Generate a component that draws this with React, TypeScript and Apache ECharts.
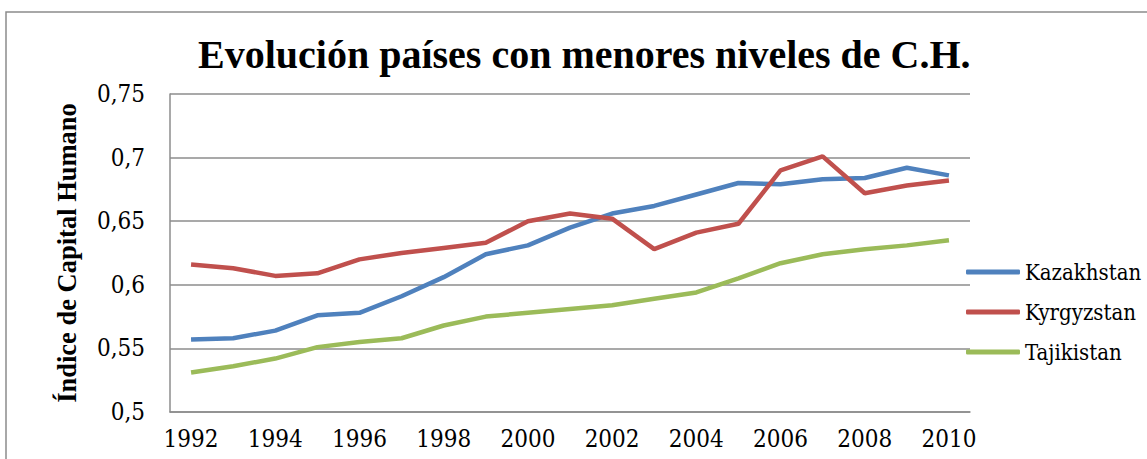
import React, { useEffect, useRef } from "react";
import * as echarts from "echarts";

const years = ["1992","1993","1994","1995","1996","1997","1998","1999","2000","2001","2002","2003","2004","2005","2006","2007","2008","2009","2010"];
const kazakhstan = [0.557, 0.558, 0.564, 0.576, 0.578, 0.591, 0.606, 0.624, 0.631, 0.645, 0.656, 0.662, 0.671, 0.680, 0.679, 0.683, 0.684, 0.692, 0.686];
const kyrgyzstan = [0.616, 0.613, 0.607, 0.609, 0.620, 0.625, 0.629, 0.633, 0.650, 0.656, 0.652, 0.628, 0.641, 0.648, 0.690, 0.701, 0.672, 0.678, 0.682];
const tajikistan = [0.531, 0.536, 0.542, 0.551, 0.555, 0.558, 0.568, 0.575, 0.578, 0.581, 0.584, 0.589, 0.594, 0.605, 0.617, 0.624, 0.628, 0.631, 0.635];
const seriesNames = ["Kazakhstan", "Kyrgyzstan", "Tajikistan"];
const colors = ["#4F81BD", "#C0504D", "#9BBB59"];
const titleText = "Evolución países con menores niveles de C.H.";
const yAxisName = "Índice de Capital Humano";

const FONT = "Liberation Serif";
const FONT_REG = "'DejaVu Serif Condensed', 'DejaVu Serif', serif";

export default function App() {
  const ref = useRef<HTMLDivElement>(null);
  useEffect(() => {
    if (!ref.current) return;
    const chart = echarts.init(ref.current, undefined, { renderer: "svg" });
    const data = [kazakhstan, kyrgyzstan, tajikistan];
    chart.setOption({
      animation: false,
      backgroundColor: "#ffffff",
      title: {
        text: titleText,
        left: 198,
        top: 34,
        padding: 0,
        textStyle: { fontFamily: FONT, fontSize: 40, fontWeight: "bold", color: "#000" },
      },
      graphic: [
        {
          type: "rect",
          shape: { x: 6, y: 12, width: 1200, height: 500 },
          style: { fill: "none", stroke: "#8c8c8c", lineWidth: 1.5 },
          silent: true,
        },
      ],
      legend: {
        orient: "vertical",
        left: 966,
        top: 261,
        itemWidth: 54,
        itemHeight: 5,
        itemGap: 18,
        padding: 0,
        icon: "roundRect",
        data: seriesNames,
        textStyle: { fontFamily: FONT_REG, fontSize: 22, color: "#000" },
      },
      grid: { left: 170, right: 177, top: 94, bottom: 47, containLabel: false },
      xAxis: {
        type: "category",
        data: years,
        boundaryGap: true,
        axisLine: { show: true, lineStyle: { color: "#8c8c8c", width: 1.5 } },
        axisTick: { show: false },
        axisLabel: { interval: 1, fontFamily: FONT_REG, fontSize: 24, color: "#000", margin: 15 },
      },
      yAxis: {
        type: "value",
        min: 0.5,
        max: 0.75,
        interval: 0.05,
        name: yAxisName,
        nameLocation: "middle",
        nameGap: 90,
        nameTextStyle: { fontFamily: FONT, fontSize: 26.5, fontWeight: "bold", color: "#000" },
        axisLine: { show: true, lineStyle: { color: "#8c8c8c", width: 1.5 } },
        axisTick: { show: false },
        splitLine: { show: true, lineStyle: { color: "#8c8c8c", width: 1.5 } },
        axisLabel: {
          fontFamily: FONT_REG,
          fontSize: 24,
          color: "#000",
          margin: 25,
          formatter: (v: number) => String(+v.toFixed(2)).replace(".", ","),
        },
      },
      series: seriesNames.map((name, i) => ({
        name,
        type: "line",
        data: data[i],
        symbol: "none",
        smooth: false,
        lineStyle: { color: colors[i], width: 4.5 },
        itemStyle: { color: colors[i] },
      })),
    });
    return () => chart.dispose();
  }, []);
  return (
    <div
      ref={ref}
      style={{ position: "fixed", left: 0, top: 0, width: 1147, height: 459 }}
    />
  );
}
